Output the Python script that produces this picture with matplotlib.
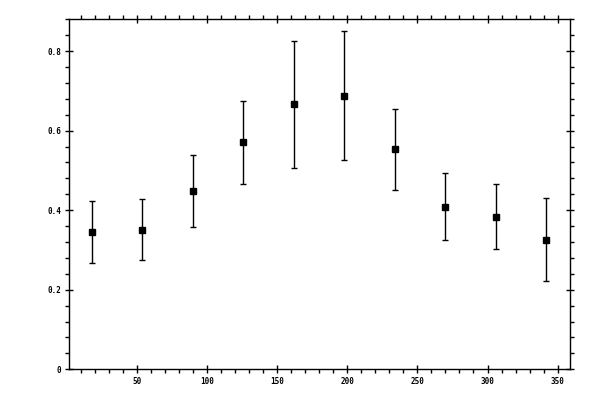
import matplotlib
matplotlib.use("Agg")
import matplotlib.pyplot as plt
from matplotlib.ticker import MultipleLocator, FuncFormatter

# bin centres (degrees) and measured values with symmetric errors
angle = [18, 54, 90, 126, 162, 198, 234, 270, 306, 342]
value = [0.345, 0.351, 0.449, 0.571, 0.666, 0.688, 0.553, 0.409, 0.384, 0.326]
error = [0.077, 0.077, 0.091, 0.104, 0.159, 0.162, 0.102, 0.084, 0.082, 0.105]

fig = plt.figure(figsize=(6, 4), dpi=100)
ax = fig.add_axes([0.1155, 0.0768, 0.835, 0.875])

ax.errorbar(angle, value, yerr=error, fmt='s', color='black', ms=4.8,
            elinewidth=1.0, capsize=2.2, capthick=1.0)

ax.set_xlim(1.9, 359)
ax.set_ylim(0, 0.88)

ax.xaxis.set_major_locator(MultipleLocator(50))
ax.xaxis.set_minor_locator(MultipleLocator(10))
ax.yaxis.set_major_locator(MultipleLocator(0.2))
ax.yaxis.set_minor_locator(MultipleLocator(0.04))
ax.yaxis.set_major_formatter(FuncFormatter(lambda v, p: '0' if abs(v) < 1e-9 else '%g' % round(v, 2)))

for s in ax.spines.values():
    s.set_linewidth(1.0)

ax.tick_params(which='major', direction='inout', length=5.8, width=1.0,
               top=True, right=True, labelsize=5.5, pad=3)
ax.tick_params(which='minor', direction='out', length=2.9, width=1.0,
               top=True, right=True)
for lab in ax.get_xticklabels() + ax.get_yticklabels():
    lab.set_family('DejaVu Sans Mono')
    lab.set_fontweight('bold')

fig.savefig('out.png', dpi=100)
